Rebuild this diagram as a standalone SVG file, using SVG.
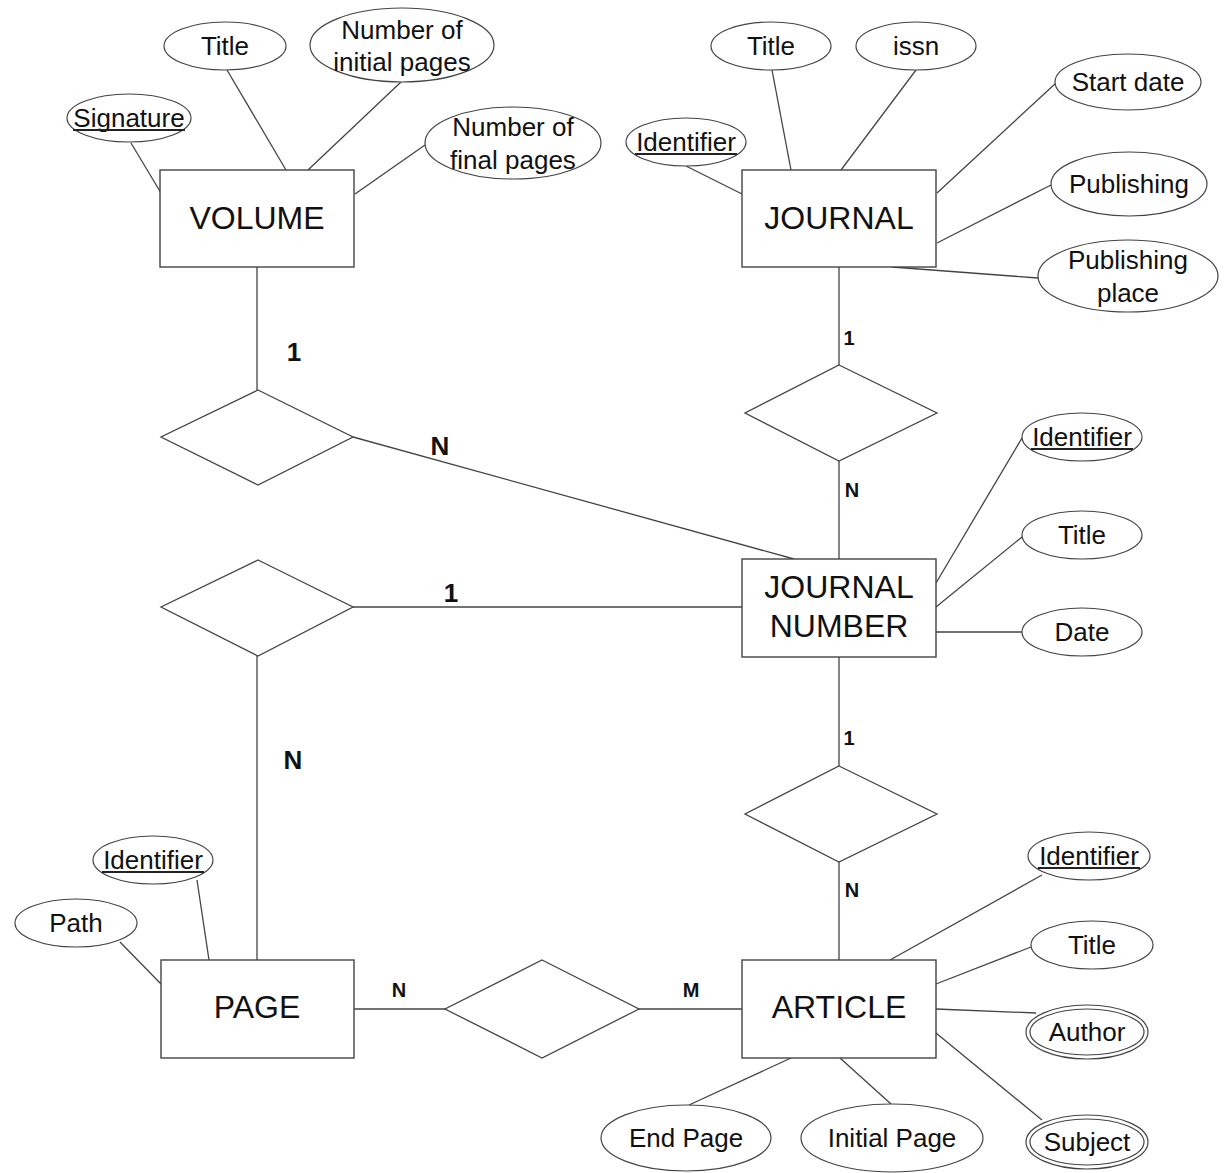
<svg xmlns="http://www.w3.org/2000/svg" width="1224" height="1173" viewBox="0 0 1224 1173">
<style>
.ent rect{fill:#fff;stroke:#444;stroke-width:1.4}
.rel polygon{fill:#fff;stroke:#444;stroke-width:1.3}
ellipse{fill:#fff;stroke:#444;stroke-width:1.2}
.ul{stroke:#222;stroke-width:2}
#connectors line{stroke:#444;stroke-width:1.3}
text{font-family:"Liberation Sans",Arial,sans-serif;fill:#111;text-anchor:middle}
.et{font-size:32px}
.at{font-size:26px}
.cb{font-size:26px;font-weight:bold}
.cs{font-size:20px;font-weight:bold}
</style>
<rect width="1224" height="1173" fill="#fff"/>
<g id="connectors">
<line x1="131" y1="143" x2="161" y2="193"/>
<line x1="227" y1="70" x2="286" y2="170"/>
<line x1="401" y1="82" x2="308" y2="170"/>
<line x1="425" y1="145" x2="355" y2="194"/>
<line x1="257" y1="267" x2="257" y2="390"/>
<line x1="686" y1="166" x2="742" y2="194"/>
<line x1="772" y1="70" x2="791" y2="170"/>
<line x1="916" y1="70" x2="841" y2="170"/>
<line x1="1056" y1="83" x2="937" y2="193"/>
<line x1="1051" y1="185" x2="937" y2="243"/>
<line x1="892" y1="267" x2="1038" y2="278"/>
<line x1="839" y1="267" x2="839" y2="365"/>
<line x1="839" y1="461" x2="839" y2="559"/>
<line x1="353" y1="437" x2="794" y2="559"/>
<line x1="353" y1="607" x2="742" y2="607"/>
<line x1="257" y1="656" x2="257" y2="960"/>
<line x1="936" y1="583" x2="1022" y2="438"/>
<line x1="936" y1="607" x2="1022" y2="537"/>
<line x1="936" y1="632" x2="1022" y2="632"/>
<line x1="839" y1="657" x2="839" y2="766"/>
<line x1="839" y1="862" x2="839" y2="960"/>
<line x1="197" y1="880" x2="209" y2="960"/>
<line x1="120" y1="942" x2="161" y2="984"/>
<line x1="354" y1="1009" x2="445" y2="1009"/>
<line x1="639" y1="1009" x2="742" y2="1009"/>
<line x1="1042" y1="875" x2="890" y2="960"/>
<line x1="1031" y1="947" x2="936" y2="984"/>
<line x1="936" y1="1009" x2="1036" y2="1013"/>
<line x1="936" y1="1033" x2="1042" y2="1120"/>
<line x1="791" y1="1058" x2="689" y2="1105"/>
<line x1="840" y1="1058" x2="891" y2="1104"/>
</g>
<g id="rels" class="rel">
<g id="rel-volume-jn"><polygon points="258,390 353,437 258,485 161,437"/></g>
<g id="rel-jn-page"><polygon points="258,560 353,607 258,656 161,607"/></g>
<g id="rel-journal-jn"><polygon points="839,365 937,413 839,461 745,413"/></g>
<g id="rel-jn-article"><polygon points="839,766 937,814 839,862 745,814"/></g>
<g id="rel-page-article"><polygon points="542,960 639,1009 542,1058 445,1009"/></g>
</g>
<g id="cardinalities">
<text class="cb" x="294" y="361">1</text>
<text class="cb" x="440" y="455">N</text>
<text class="cb" x="451" y="602">1</text>
<text class="cb" x="293" y="769">N</text>
<text class="cs" x="849" y="345">1</text>
<text class="cs" x="852" y="497">N</text>
<text class="cs" x="849" y="745">1</text>
<text class="cs" x="852" y="897">N</text>
<text class="cs" x="399" y="997">N</text>
<text class="cs" x="691" y="997">M</text>
</g>
<g id="volume" class="ent"><rect x="160" y="170" width="194" height="97"/><text class="et" x="257" y="229">VOLUME</text></g>
<g id="journal" class="ent"><rect x="742" y="170" width="194" height="97"/><text class="et" x="839" y="229">JOURNAL</text></g>
<g id="journal-number" class="ent"><rect x="742" y="559" width="194" height="98"/><text class="et" x="839" y="598">JOURNAL</text><text class="et" x="839" y="637">NUMBER</text></g>
<g id="page" class="ent"><rect x="161" y="960" width="193" height="98"/><text class="et" x="257" y="1018">PAGE</text></g>
<g id="article" class="ent"><rect x="742" y="960" width="194" height="98"/><text class="et" x="839" y="1018">ARTICLE</text></g>

<g id="vol-title"><ellipse cx="225" cy="46" rx="61" ry="24"/><text class="at" x="225" y="55">Title</text></g>
<g id="vol-initial"><ellipse cx="402" cy="45" rx="92" ry="37"/><text class="at" x="402" y="39">Number of</text><text class="at" x="402" y="71">initial pages</text></g>
<g id="vol-signature"><ellipse cx="129" cy="118" rx="62" ry="24"/><text class="at" x="129" y="127">Signature</text><line class="ul" x1="73" y1="130" x2="185" y2="130"/></g>
<g id="vol-final"><ellipse cx="513" cy="143" rx="88" ry="36"/><text class="at" x="513" y="136">Number of</text><text class="at" x="513" y="169">final pages</text></g>

<g id="jou-identifier"><ellipse cx="686" cy="142" rx="60" ry="24"/><text class="at" x="686" y="151">Identifier</text><line class="ul" x1="635" y1="154" x2="737" y2="154"/></g>
<g id="jou-title"><ellipse cx="771" cy="46" rx="60" ry="24"/><text class="at" x="771" y="55">Title</text></g>
<g id="jou-issn"><ellipse cx="916" cy="46" rx="60" ry="24"/><text class="at" x="916" y="55">issn</text></g>
<g id="jou-start"><ellipse cx="1128" cy="82" rx="73" ry="28"/><text class="at" x="1128" y="91">Start date</text></g>
<g id="jou-publishing"><ellipse cx="1129" cy="184" rx="78" ry="32"/><text class="at" x="1129" y="193">Publishing</text></g>
<g id="jou-place"><ellipse cx="1128" cy="276" rx="90" ry="36"/><text class="at" x="1128" y="269">Publishing</text><text class="at" x="1128" y="302">place</text></g>

<g id="jn-identifier"><ellipse cx="1082" cy="437" rx="60" ry="24"/><text class="at" x="1082" y="446">Identifier</text><line class="ul" x1="1031" y1="449" x2="1133" y2="449"/></g>
<g id="jn-title"><ellipse cx="1082" cy="535" rx="60" ry="24"/><text class="at" x="1082" y="544">Title</text></g>
<g id="jn-date"><ellipse cx="1082" cy="632" rx="60" ry="24"/><text class="at" x="1082" y="641">Date</text></g>

<g id="page-identifier"><ellipse cx="153" cy="860" rx="60" ry="24"/><text class="at" x="153" y="869">Identifier</text><line class="ul" x1="102" y1="872" x2="204" y2="872"/></g>
<g id="page-path"><ellipse cx="76" cy="923" rx="61" ry="24"/><text class="at" x="76" y="932">Path</text></g>

<g id="art-identifier"><ellipse cx="1089" cy="856" rx="61" ry="24"/><text class="at" x="1089" y="865">Identifier</text><line class="ul" x1="1038" y1="868" x2="1140" y2="868"/></g>
<g id="art-title"><ellipse cx="1092" cy="945" rx="61" ry="24"/><text class="at" x="1092" y="954">Title</text></g>
<g id="art-author"><ellipse cx="1087" cy="1032" rx="61" ry="27"/><ellipse cx="1087" cy="1032" rx="57" ry="23"/><text class="at" x="1087" y="1041">Author</text></g>
<g id="art-subject"><ellipse cx="1087" cy="1142" rx="61" ry="27"/><ellipse cx="1087" cy="1142" rx="57" ry="23"/><text class="at" x="1087" y="1151">Subject</text></g>
<g id="art-end"><ellipse cx="686" cy="1138" rx="85" ry="33"/><text class="at" x="686" y="1147">End Page</text></g>
<g id="art-initial"><ellipse cx="892" cy="1138" rx="91" ry="34"/><text class="at" x="892" y="1147">Initial Page</text></g>
</svg>
